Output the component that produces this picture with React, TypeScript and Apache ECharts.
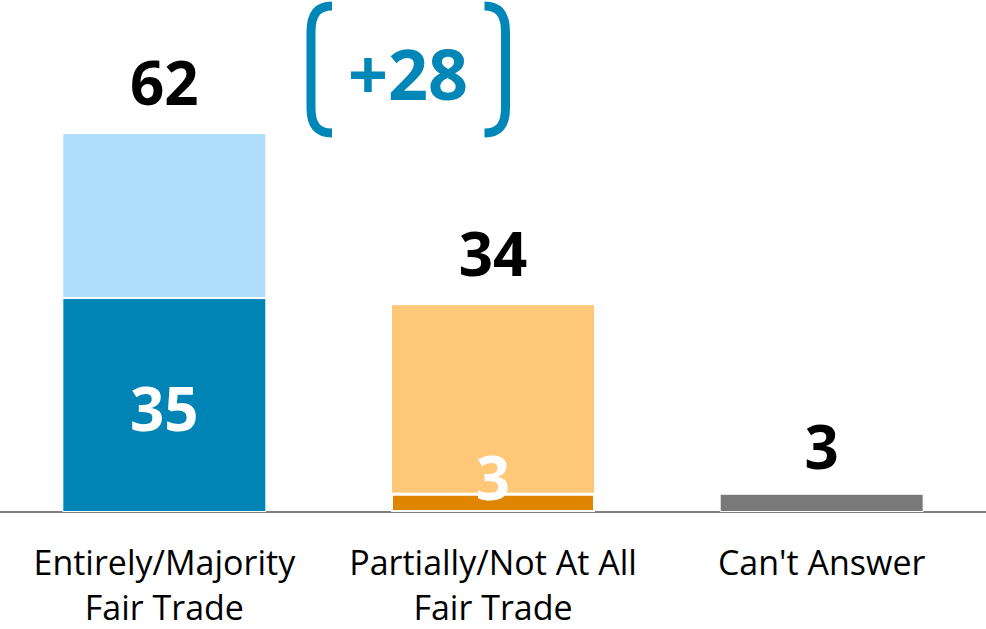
import React, { useEffect, useRef } from "react";
import * as echarts from "echarts";

const categories = ["Entirely/Majority\nFair Trade", "Partially/Not At All\nFair Trade", "Can't Answer"];
const baseValues = [35, 3, 3];
const topValues = [27, 31, 0];
const totals = [62, 34, 3];
const baseColors = ["#0084B6", "#E08500", "#797979"];
const topColors = ["#AEDEFB", "#FFC879", "#FFFFFF"];
const gapLabel = "+28";

const ACCENT = "#0087B8";
const FONT = "'Open Sans', 'Noto Sans', sans-serif";

const LEFT_BRACKET = "M332 6 C318 6 311 14 311 32 L311 108 C311 126 318 133 332 133";
const RIGHT_BRACKET = "M484.5 6 C498.5 6 505.5 14 505.5 32 L505.5 108 C505.5 126 498.5 133 484.5 133";

let registered = false;
function registerShapes() {
  if (registered) return;
  echarts.graphic.registerShape("bracketL", echarts.graphic.extendPath(LEFT_BRACKET, {}));
  echarts.graphic.registerShape("bracketR", echarts.graphic.extendPath(RIGHT_BRACKET, {}));
  registered = true;
}

export default function App() {
  const ref = useRef<HTMLDivElement>(null);
  useEffect(() => {
    document.body.style.margin = "0";
    registerShapes();
    const chart = echarts.init(ref.current!, null, { renderer: "svg" });
    const numLabel = { fontFamily: FONT, fontWeight: "bold" as const, fontSize: 60 };
    const baseData = baseValues.map((v, i) => {
      let label: any;
      if (i === 0) {
        label = { show: true, position: "inside", color: "#fff", offset: [0, 3], formatter: String(v), ...numLabel };
      } else if (i === 1) {
        label = { show: true, position: "inside", color: "#fff", offset: [0, -26], formatter: String(v), ...numLabel };
      } else {
        label = { show: true, position: "top", distance: 18, color: "#000", formatter: String(totals[i]), ...numLabel };
      }
      return {
        value: v,
        itemStyle: { color: baseColors[i], borderColor: "#fff", borderWidth: i === 1 ? 2 : 1 },
        label,
      };
    });
    const topData = topValues.map((v, i) => ({
      value: v,
      itemStyle: { color: topColors[i], borderColor: "#fff", borderWidth: 1 },
      label: {
        show: i < 2,
        position: "top",
        distance: 21,
        color: "#000",
        formatter: String(totals[i]),
        ...numLabel,
      },
    }));
    chart.setOption({
      animation: false,
      backgroundColor: "#fff",
      grid: { left: 0, right: 0, top: 23, bottom: 115 },
      xAxis: {
        type: "category",
        data: categories,
        axisLine: { show: true, lineStyle: { color: "#7F7F7F", width: 2 } },
        axisTick: { show: false },
        axisLabel: {
          color: "#000",
          fontFamily: FONT,
          fontSize: 34,
          lineHeight: 45,
          margin: 27,
          interval: 0,
        },
      },
      yAxis: {
        type: "value",
        min: 0,
        max: 80,
        show: false,
        splitLine: { show: false },
      },
      series: [
        { type: "bar", stack: "s", barWidth: 204, data: baseData },
        { type: "bar", stack: "s", barWidth: 204, data: topData },
      ],
      graphic: [
        {
          type: "bracketL",
          x: 0,
          y: 0,
          style: { fill: "none", stroke: ACCENT, lineWidth: 9 },
        },
        {
          type: "bracketR",
          x: 0,
          y: 0,
          style: { fill: "none", stroke: ACCENT, lineWidth: 9 },
        },
        {
          type: "text",
          x: 408,
          y: 73,
          style: {
            text: gapLabel,
            fill: ACCENT,
            font: `bold 70px ${FONT}`,
            textAlign: "center",
            textVerticalAlign: "middle",
          },
        },
      ],
    });
    return () => chart.dispose();
  }, []);
  return <div ref={ref} style={{ width: 986, height: 629 }} />;
}
